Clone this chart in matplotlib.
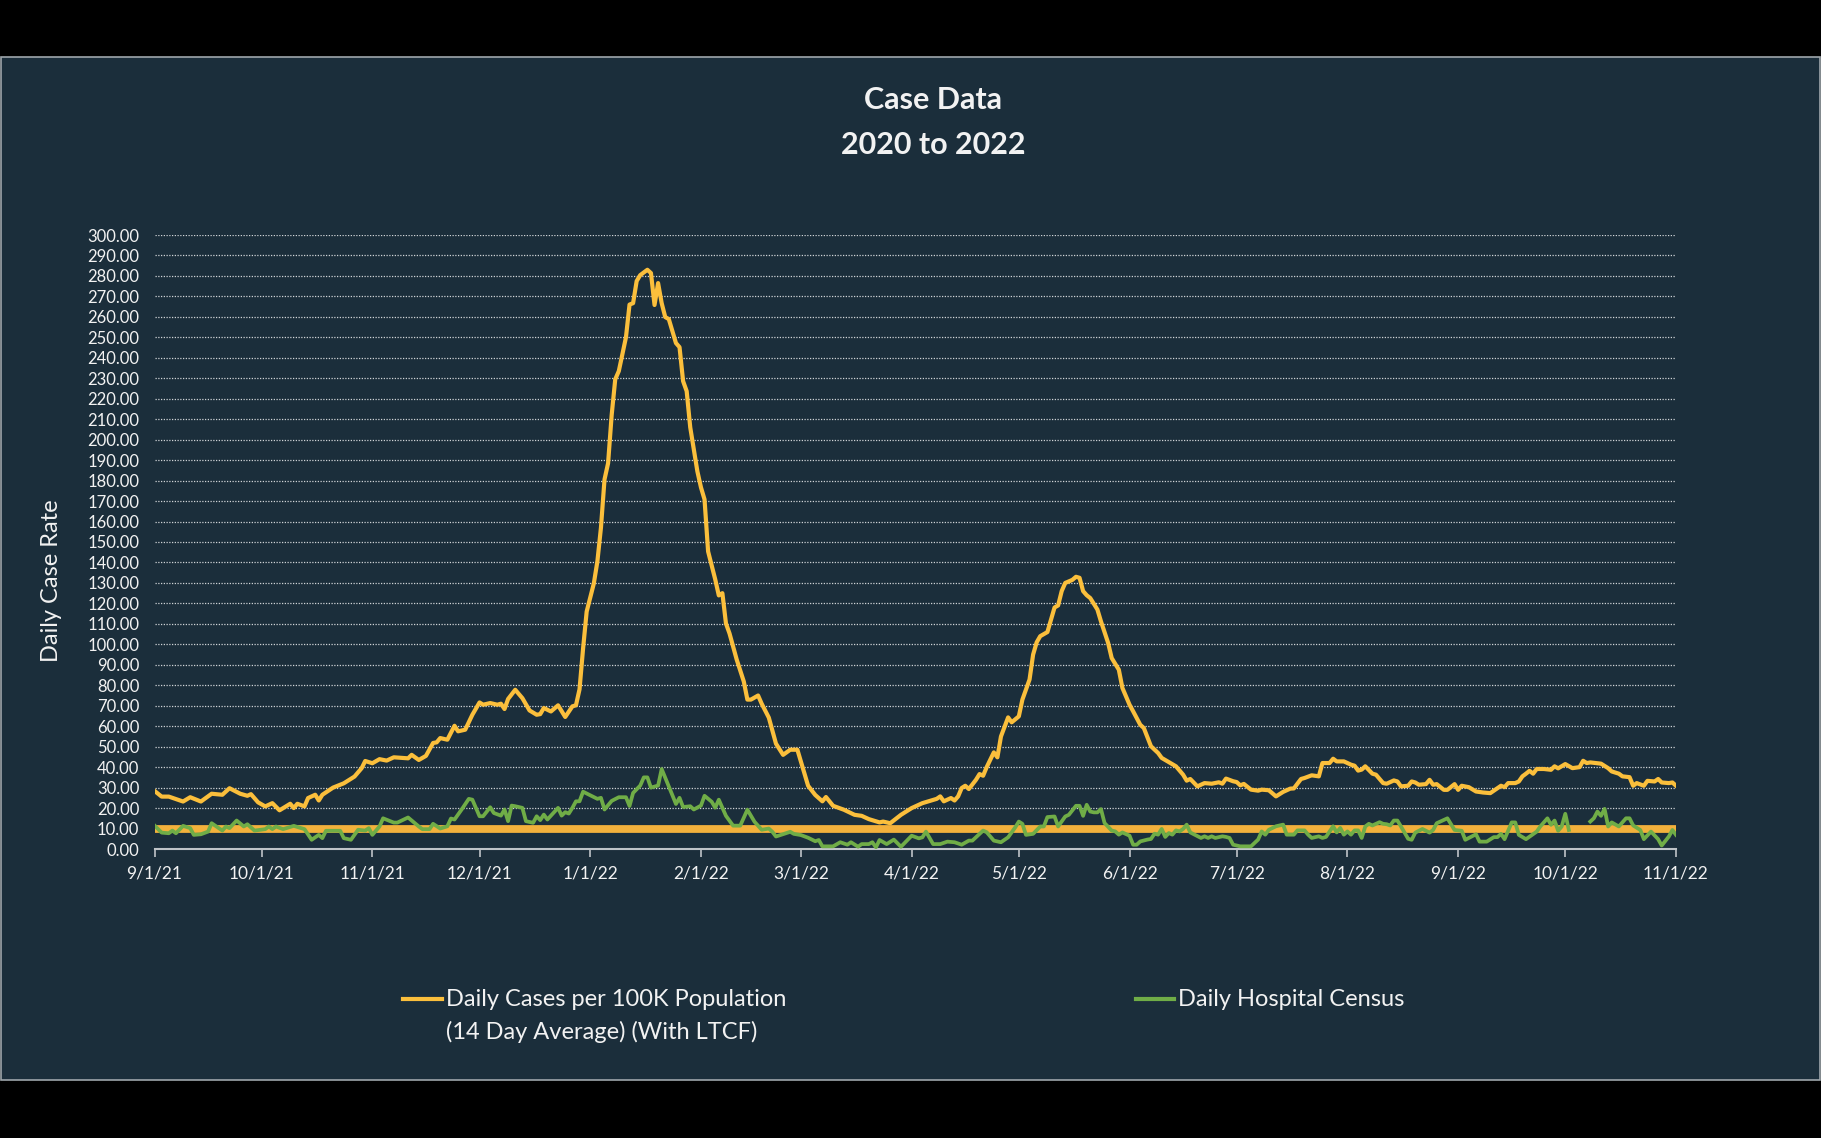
import numpy as np
import pandas as pd
import matplotlib
matplotlib.use('Agg')
import matplotlib.pyplot as plt
import matplotlib.dates as mdates
from matplotlib.lines import Line2D
from matplotlib.patches import Rectangle
from matplotlib.ticker import FuncFormatter

plt.rcParams['font.family'] = ['Lato', 'DejaVu Sans']

START = '2021-09-01'
END = '2022-11-01'

# days since 9/1/21 and the 14 day case rate per 100K
CASE_DAYS = [0, 2, 4, 8, 10, 13, 16, 19, 21, 24, 26, 27, 29, 31, 33, 35, 38, 39, 40, 42,
             43, 45, 46, 47, 50, 53, 56, 58, 59, 61, 63, 65, 67, 71, 72, 74, 76, 78, 79, 80,
             82, 84, 85, 87, 89, 91, 92, 94, 96, 97, 98, 99, 101, 103, 105, 107, 108, 109, 111, 113,
             115, 117, 118, 119, 120, 121, 123, 124, 125, 126, 127, 128, 129, 130, 132, 133, 134, 135, 136, 138,
             139, 140, 141, 142, 143, 144, 146, 147, 148, 149, 150, 152, 153, 154, 155, 157, 158, 159, 160, 161,
             163, 165, 166, 167, 169, 170, 172, 174, 176, 178, 180, 183, 185, 187, 188, 190, 193, 196, 198, 200,
             203, 204, 206, 209, 212, 215, 218, 219, 220, 221, 223, 224, 225, 226, 227, 228, 230, 231, 232, 233,
             235, 236, 237, 239, 240, 242, 243, 245, 246, 247, 248, 250, 251, 252, 253, 254, 255, 257, 258, 259,
             260, 261, 262, 264, 265, 267, 268, 270, 271, 273, 274, 276, 277, 279, 281, 282, 286, 288, 289, 290,
             292, 294, 296, 298, 299, 300, 302, 303, 304, 305, 307, 309, 310, 312, 314, 316, 318, 319, 321, 322,
             324, 326, 327, 329, 330, 331, 333, 335, 336, 337, 338, 339, 341, 342, 344, 345, 347, 348, 349, 351,
             352, 353, 354, 356, 357, 358, 359, 361, 362, 364, 365, 366, 368, 370, 372, 374, 375, 377, 378, 379,
             381, 382, 383, 384, 385, 386, 387, 389, 391, 392, 393, 395, 397, 399, 400, 401, 402, 405, 407, 408,
             410, 411, 413, 414, 415, 417, 418, 420, 421, 422, 424, 425, 426]
CASE_RATE = [28.4, 25.6, 25.6, 23.2, 25.3, 23.2, 27.0, 26.5, 29.7, 27.0, 26.0, 26.8, 22.8, 20.8, 22.4, 18.9, 22.1, 20.0, 22.1, 20.8,
             24.9, 26.5, 23.7, 26.5, 30.0, 32.1, 35.4, 39.5, 43.0, 41.9, 43.9, 43.2, 44.8, 44.3, 46.0, 43.5, 45.5, 51.8, 52.1, 54.2,
             53.4, 60.2, 57.5, 58.3, 65.6, 71.6, 70.5, 71.3, 70.5, 71.0, 68.4, 73.3, 77.8, 73.7, 67.7, 65.6, 65.9, 68.9, 67.2, 70.2,
             64.5, 69.7, 70.2, 78.0, 98.0, 116.0, 129.7, 140.5, 157.0, 180.6, 188.5, 212.0, 229.5, 233.5, 250.0, 266.0, 266.7, 277.5, 280.4, 283.0,
             281.4, 265.8, 276.5, 266.7, 259.9, 258.9, 247.2, 245.2, 228.6, 223.7, 206.0, 184.5, 176.7, 170.8, 145.4, 131.7, 123.9, 125.0, 110.2, 105.3,
             92.6, 81.8, 73.0, 73.0, 75.0, 71.0, 64.2, 51.5, 46.0, 48.5, 48.5, 30.9, 26.4, 23.3, 25.4, 21.1, 19.2, 16.7, 16.2, 14.6,
             13.0, 13.4, 12.6, 16.7, 20.0, 22.4, 24.0, 24.5, 25.7, 23.3, 24.9, 23.7, 25.7, 29.8, 30.9, 29.3, 33.8, 36.6, 35.8, 40.0,
             47.2, 44.8, 55.0, 64.3, 61.9, 64.8, 73.0, 82.8, 95.0, 101.0, 104.0, 106.0, 112.0, 118.0, 119.0, 126.0, 130.0, 131.5, 133.0, 132.5,
             126.0, 124.0, 122.6, 117.0, 111.2, 100.7, 93.3, 87.6, 78.7, 70.5, 67.3, 60.7, 59.1, 50.2, 46.9, 44.5, 40.4, 36.3, 33.4, 34.2,
             30.6, 32.2, 31.9, 32.6, 31.9, 34.4, 33.1, 32.7, 31.1, 31.8, 29.0, 28.5, 29.0, 28.7, 25.7, 27.9, 29.5, 29.6, 34.2, 34.7,
             36.0, 35.5, 42.0, 42.0, 44.1, 42.8, 42.8, 41.2, 40.7, 38.3, 38.8, 40.4, 36.8, 36.3, 32.2, 31.9, 33.5, 33.0, 30.6, 30.9,
             33.0, 32.5, 31.4, 31.7, 33.8, 31.4, 31.7, 28.9, 28.9, 31.7, 28.9, 30.9, 30.2, 28.1, 27.6, 27.3, 28.5, 30.9, 30.2, 32.2,
             32.2, 33.0, 35.5, 36.8, 38.2, 36.8, 39.1, 39.1, 38.7, 40.4, 39.4, 41.5, 39.5, 40.0, 43.1, 42.0, 42.3, 41.7, 39.5, 37.9,
             36.8, 35.5, 35.1, 30.9, 32.2, 30.9, 33.3, 33.0, 34.2, 32.5, 32.2, 32.5, 30.9]

# days since 9/1/21 and the daily hospital census (no data around 10/5/22)
HOSP_DAYS = [0, 2, 4, 5, 6, 8, 10, 11, 13, 15, 16, 19, 20, 21, 23, 25, 26, 28, 31, 32,
             33, 34, 36, 39, 42, 44, 46, 47, 48, 52, 53, 55, 57, 59, 60, 61, 63, 64, 67, 68,
             71, 74, 75, 77, 78, 80, 82, 83, 84, 86, 88, 89, 91, 92, 94, 95, 97, 98, 99, 100,
             101, 103, 104, 106, 107, 108, 109, 110, 113, 114, 115, 116, 117, 118, 119, 120, 123, 124, 125, 126,
             128, 130, 132, 133, 134, 136, 137, 138, 139, 141, 142, 144, 146, 147, 148, 150, 151, 153, 154, 156,
             157, 158, 160, 162, 164, 166, 168, 170, 172, 173, 174, 178, 179, 181, 183, 185, 186, 187, 190, 192,
             194, 195, 197, 198, 200, 201, 202, 203, 205, 207, 209, 212, 214, 215, 216, 218, 220, 222, 224, 226,
             228, 229, 232, 233, 235, 237, 239, 241, 242, 243, 244, 246, 248, 249, 250, 252, 253, 255, 256, 258,
             259, 260, 261, 262, 263, 264, 265, 266, 268, 269, 270, 271, 273, 274, 275, 276, 278, 279, 280, 281,
             282, 283, 284, 285, 286, 287, 288, 289, 290, 293, 294, 295, 296, 297, 299, 300, 301, 302, 304, 307,
             309, 310, 311, 312, 314, 316, 317, 319, 320, 322, 323, 324, 326, 327, 328, 330, 331, 332, 333, 334,
             335, 336, 337, 338, 339, 340, 341, 343, 344, 345, 346, 347, 348, 349, 351, 352, 353, 355, 357, 358,
             359, 362, 364, 366, 367, 370, 371, 373, 375, 376, 377, 378, 380, 381, 382, 384, 387, 388, 390, 391,
             392, 393, 394, 395, 396, 399, 402, 403, 404, 405, 406, 407, 408, 410, 412, 413, 414, 416, 417, 419,
             421, 422, 424, 425, 426]
HOSP_CENSUS = [11.5, 8.0, 7.7, 9.0, 7.7, 11.3, 10.2, 6.9, 7.2, 8.5, 12.6, 9.0, 11.0, 10.2, 13.9, 11.0, 12.1, 9.0, 9.7, 11.0,
               9.7, 11.0, 9.7, 11.3, 9.7, 4.5, 6.9, 5.3, 8.9, 8.9, 5.3, 4.5, 9.4, 9.0, 10.2, 6.9, 11.0, 15.0, 12.9, 12.9,
               15.4, 11.0, 9.7, 9.7, 12.3, 10.0, 11.1, 14.9, 14.4, 19.3, 24.5, 24.1, 16.0, 16.0, 20.4, 17.6, 16.3, 19.3, 13.6, 21.2,
               20.9, 20.1, 13.6, 12.8, 16.0, 14.1, 16.8, 14.4, 20.1, 16.3, 18.0, 17.3, 20.1, 23.3, 23.3, 28.0, 25.4, 24.5, 25.0, 19.3,
               23.5, 25.3, 25.3, 21.0, 27.4, 31.0, 35.0, 35.0, 30.0, 31.0, 39.1, 30.5, 22.0, 25.0, 20.5, 20.9, 19.3, 21.2, 26.0, 23.1,
               20.2, 24.1, 16.2, 11.4, 11.4, 19.2, 13.3, 9.4, 10.0, 8.4, 6.1, 8.4, 7.4, 6.8, 5.5, 3.8, 4.4, 1.3, 1.3, 3.3,
               2.1, 3.3, 1.1, 2.4, 2.4, 3.3, 0.8, 4.4, 2.4, 4.6, 1.1, 6.5, 5.2, 5.7, 8.5, 2.4, 2.4, 3.6, 3.3, 2.1,
               4.1, 4.1, 9.0, 8.2, 4.1, 3.3, 5.7, 10.6, 13.4, 12.3, 6.9, 7.4, 11.0, 11.0, 15.6, 15.9, 11.0, 15.9, 16.7, 21.1,
               21.1, 16.2, 21.6, 18.3, 17.9, 17.9, 19.5, 12.7, 9.0, 8.6, 7.0, 8.1, 6.5, 2.1, 2.1, 3.7, 4.6, 4.9, 7.5, 7.0,
               9.8, 5.9, 7.8, 7.0, 9.1, 8.6, 9.8, 11.9, 8.1, 5.4, 6.2, 5.4, 6.2, 5.4, 6.2, 5.9, 5.4, 2.1, 1.3, 1.3,
               4.6, 8.6, 7.0, 9.4, 11.1, 11.9, 7.0, 7.0, 9.1, 9.1, 7.0, 5.4, 6.2, 5.4, 5.9, 11.1, 8.1, 10.3, 7.0, 8.6,
               7.0, 9.1, 9.1, 5.4, 11.0, 12.3, 11.5, 13.1, 12.3, 12.1, 11.5, 13.9, 13.9, 11.0, 5.0, 4.5, 8.0, 9.8, 8.0, 9.3,
               12.6, 15.0, 9.3, 8.9, 4.5, 7.2, 3.6, 3.6, 5.8, 5.8, 7.4, 4.8, 13.0, 13.0, 6.9, 4.8, 8.5, 11.0, 15.0, 11.8,
               13.9, 8.9, 11.0, 17.2, 9.3, np.nan, 13.4, 15.0, 18.3, 16.2, 19.6, 11.0, 13.0, 11.0, 15.0, 15.0, 11.5, 9.3, 4.8, 8.5,
               4.8, 1.7, 6.1, 9.3, 6.9]

THRESHOLD = 10

BG = '#1b2e3b'
YELLOW = '#fbbf3c'
BAND = '#f3b13c'
GREEN = '#70ad47'
TXT = '#f2f2f2'
AXIS = '#bfc4c8'

W, H = 1821, 1138


def fx(px):
    return px / W


def fy(py):
    return 1 - py / H


start = pd.Timestamp(START)
end = pd.Timestamp(END)
case_dates = start + pd.to_timedelta(CASE_DAYS, unit='D')
hosp_dates = start + pd.to_timedelta(HOSP_DAYS, unit='D')

fig = plt.figure(figsize=(W / 100, H / 100), dpi=100, facecolor='black')
fig.patches.append(Rectangle((fx(1), fy(1080)), fx(1819), (1080 - 57) / H,
                             transform=fig.transFigure, facecolor=BG,
                             edgecolor='#9ea6ab', lw=1.2, zorder=-10))

ax = fig.add_axes([fx(154.5), fy(849), fx(1676 - 154.5), (849 - 235) / H])
ax.set_facecolor('none')

ax.plot([start, end], [THRESHOLD, THRESHOLD], color=BAND, lw=5.6,
        solid_capstyle='butt', zorder=2)
ax.plot(case_dates, CASE_RATE, color=YELLOW, lw=3.0, zorder=3)
ax.plot(hosp_dates, HOSP_CENSUS, color=GREEN, lw=2.7, zorder=4)

ax.set_xlim(start, end)
ax.set_ylim(0, 300)
ax.set_yticks(np.arange(0, 301, 10))
ax.yaxis.set_major_formatter(FuncFormatter(lambda v, p: f'{v:.2f}'))
ax.xaxis.set_major_locator(mdates.MonthLocator(bymonthday=1))
ax.xaxis.set_major_formatter(FuncFormatter(
    lambda v, p: (lambda d: f'{d.month}/{d.day}/{d:%y}')(mdates.num2date(v))))

ax.set_axisbelow(True)
ax.yaxis.grid(True, color='#cfd3d6', linestyle=(0, (1, 1.2)), linewidth=0.9)
for s in ['left', 'top', 'right']:
    ax.spines[s].set_visible(False)
ax.spines['bottom'].set_color(AXIS)
ax.spines['bottom'].set_linewidth(1.5)
ax.tick_params(axis='x', direction='out', length=6, width=1.2, color=AXIS,
               labelcolor=TXT, labelsize=12.5, pad=6)
ax.tick_params(axis='y', length=0, labelcolor=TXT, labelsize=12, pad=11)

fig.text(fx(933), fy(100), 'Case Data', ha='center', va='center',
         fontsize=22, fontweight='bold', color=TXT)
fig.text(fx(933), fy(145), '2020 to 2022', ha='center', va='center',
         fontsize=22, fontweight='bold', color=TXT)
fig.text(fx(52), fy(581), 'Daily Case Rate', rotation=90, ha='center',
         va='center', fontsize=17, color=TXT)

# legend
fig.add_artist(Line2D([fx(403), fx(442)], [fy(999), fy(999)],
                      transform=fig.transFigure, color=YELLOW, lw=3.0))
fig.text(fx(446), fy(999), 'Daily Cases per 100K Population', ha='left',
         va='center', fontsize=17, color=TXT)
fig.text(fx(446), fy(1032), '(14 Day Average) (With LTCF)', ha='left',
         va='center', fontsize=17, color=TXT)
fig.add_artist(Line2D([fx(1136), fx(1174)], [fy(999), fy(999)],
                      transform=fig.transFigure, color=GREEN, lw=3.0))
fig.text(fx(1178), fy(999), 'Daily Hospital Census', ha='left',
         va='center', fontsize=17, color=TXT)

fig.savefig('out.png', dpi=100, facecolor='black')
